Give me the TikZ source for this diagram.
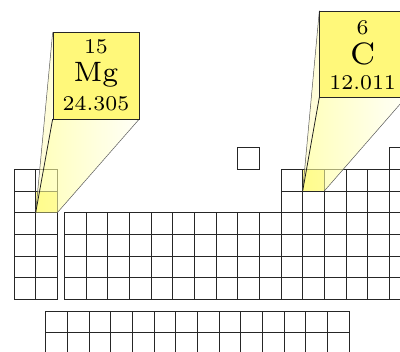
\documentclass[tikz,border=0pt]{standalone}
\usepackage{fontspec}
\newfontfamily\cellfont{lmroman7-regular.otf}
\usetikzlibrary{calc}
\tikzset{
  gridline/.style={draw=black!85, line width=0.9pt},
  infobox/.style={draw=black!85, line width=0.8pt, fill=yellow!52, minimum size=86.667pt, inner sep=0pt, anchor=north west},
  sliver/.style={fill=yellow!25, opacity=0.6},
  face/.style={left color=yellow!45, right color=yellow!5, opacity=0.6},
  edgedark/.style={draw=black!90, line width=0.75pt},
  edgelight/.style={draw=black!65, line width=0.5pt},
  numtext/.style={anchor=base, inner sep=0pt, font=\cellfont\fontsize{21}{25}\selectfont},
  symtext/.style={anchor=base, inner sep=0pt},
  hicell/.style={fill=yellow!45},
}
\begin{document}
\begin{tikzpicture}[x=1pt,y=-1pt]
\useasboundingbox (0,0) rectangle (400,352);
\clip (0,0) rectangle (400,352);
\def\c{21.667}
% highlighted cells
\fill[hicell] (35.667,191) rectangle +(\c,\c);
\fill[hicell] (302.667,169.333) rectangle +(\c,\c);
% s-block
\foreach \i in {0,1} \foreach \j in {0,...,5}
  \draw[gridline] ({14+\i*\c},{169.333+\j*\c}) rectangle +(\c,\c);
% d-block
\foreach \i in {0,...,9} \foreach \j in {0,...,3}
  \draw[gridline] ({64.333+\i*\c},{212.667+\j*\c}) rectangle +(\c,\c);
% p-block
\foreach \i in {0,...,5} \foreach \j in {0,...,5}
  \draw[gridline] ({281+\i*\c},{169.333+\j*\c}) rectangle +(\c,\c);
% single cells in row 1
\draw[gridline] (237.667,147.667) rectangle +(\c,\c);
\draw[gridline] (389.333,147.667) rectangle +(\c,\c);
% f-block
\foreach \i in {0,...,13} \foreach \j in {0,1}
  \draw[gridline] ({45.667+\i*\c},{311+\j*\c}) rectangle +(\c,\c);

% ---- Mg callout ----
\coordinate (mgBL) at (35.667,212.667);
\coordinate (mgBR) at (57.333,212.667);
\coordinate (mgbTL) at (52.667,32.333);
\coordinate (mgbBL) at (52.667,119);
\coordinate (mgbBR) at (139.333,119);
\fill[sliver] (mgBL) -- (mgbTL) -- (mgbBL) -- cycle;
\shade[face] (mgBL) -- (mgbBL) -- (mgbBR) -- (mgBR) -- cycle;
\draw[edgelight] (mgBL) -- (mgbTL);
\draw[edgedark] (mgBL) -- (mgbBL);
\draw[edgelight] (mgBR) -- (mgbBR);
\node[infobox] (mgbox) at (mgbTL) {};
\node[numtext] (mgnum) at (96,53.5) {15};
\node[symtext, font=\cellfont\fontsize{28}{32}\selectfont] (mgsym) at (96,81.5) {Mg};
\node[numtext] (mgwt) at (96,111) {24.305};

% ---- C callout ----
\coordinate (cBL) at (302.667,191);
\coordinate (cBR) at (324.333,191);
\coordinate (cbTL) at (319.333,10.667);
\coordinate (cbBL) at (319.333,97.333);
\coordinate (cbBR) at (406,97.333);
\fill[sliver] (cBL) -- (cbTL) -- (cbBL) -- cycle;
\shade[face] (cBL) -- (cbBL) -- (cbBR) -- (cBR) -- cycle;
\draw[edgelight] (cBL) -- (cbTL);
\draw[edgedark] (cBL) -- (cbBL);
\draw[edgelight] (cBR) -- (cbBR);
\node[infobox] (cbox) at (cbTL) {};
\node[numtext] (cnum) at (362.667,34.8) {6};
\node[symtext, font=\cellfont\fontsize{31}{36}\selectfont] (csym) at (362.667,65) {C};
\node[numtext] (cwt) at (362.667,89.3) {12.011};
\end{tikzpicture}
\end{document}
